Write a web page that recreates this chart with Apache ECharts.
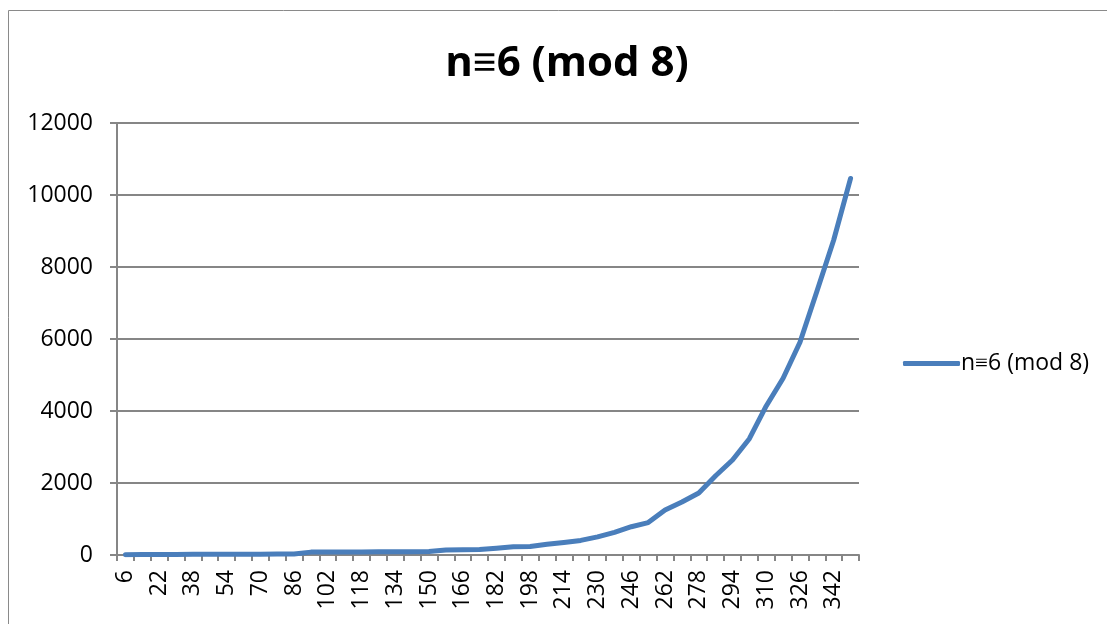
<!DOCTYPE html>
<html>
<head>
<meta charset="utf-8">
<script src="https://cdn.jsdelivr.net/npm/echarts@6/dist/echarts.min.js"></script>
<style>
  html, body { margin: 0; padding: 0; background: #fff; }
  #chart { width: 1107px; height: 624px; }
</style>
</head>
<body>
<div id="chart"></div>
<script>
// n values: 6, 14, 22, ..., 350 (step 8)
const categories = [
  '6', '14', '22', '30', '38', '46', '54', '62', '70', '78', '86',
  '94', '102', '110', '118', '126', '134', '142', '150', '158', '166',
  '174', '182', '190', '198', '206', '214', '222', '230', '238', '246',
  '254', '262', '270', '278', '286', '294', '302', '310', '318', '326',
  '334', '342', '350'
];

const seriesName = 'n≡6 (mod 8)';

const counts = [
  10, 12, 14, 16, 18, 20, 20, 22, 24, 26, 28,
  80, 82, 84, 86, 88, 90, 92, 95, 140, 145,
  150, 190, 230, 235, 296, 350, 405, 505, 630, 785,
  900, 1250, 1470, 1720, 2200, 2640, 3230, 4140, 4910, 5910,
  7320, 8750, 10460
];

const yTicks = { min: 0, max: 12000, interval: 2000 };

const axisGray = '#868686';
const lineBlue = '#4a7ebb';
const font = 'Open Sans';

const chart = echarts.init(document.getElementById('chart'));
chart.setOption({
  animation: false,
  backgroundColor: '#fff',
  title: {
    text: seriesName,
    left: 562,
    top: 38,
    textAlign: 'center',
    textStyle: { fontFamily: font, fontWeight: 'bold', fontSize: 42, color: '#000' }
  },
  graphic: [{
    type: 'rect',
    shape: { x: 8.5, y: 10.5, width: 1200, height: 700 },
    style: { fill: 'none', stroke: '#8a8a8a', lineWidth: 1 },
    silent: true
  }],
  legend: {
    data: [{ name: seriesName, icon: 'roundRect' }],
    orient: 'vertical',
    left: 898,
    top: 347,
    itemWidth: 57,
    itemHeight: 5,
    itemGap: 6,
    textStyle: { fontFamily: font, fontSize: 23, color: '#000', padding: [0, 0, 0, -4] }
  },
  grid: {
    left: 117,
    right: 248,
    top: 123,
    bottom: 69,
    containLabel: false
  },
  xAxis: {
    type: 'category',
    data: categories,
    boundaryGap: true,
    axisLine: { lineStyle: { color: axisGray, width: 2 } },
    axisTick: { show: true, interval: 0, length: 6, lineStyle: { color: axisGray, width: 2 } },
    axisLabel: {
      interval: 1,
      rotate: 90,
      margin: 15,
      fontFamily: font,
      fontSize: 23,
      color: '#000'
    },
    splitLine: { show: false }
  },
  yAxis: {
    type: 'value',
    min: yTicks.min,
    max: yTicks.max,
    interval: yTicks.interval,
    axisLine: { show: true, lineStyle: { color: axisGray, width: 2 } },
    axisTick: { show: true, length: 7, lineStyle: { color: axisGray, width: 2 } },
    axisLabel: {
      margin: 24,
      fontFamily: font,
      fontSize: 23,
      color: '#000',
      formatter: (v) => String(v)
    },
    splitLine: { show: true, lineStyle: { color: axisGray, width: 2 } }
  },
  series: [{
    name: seriesName,
    type: 'line',
    data: counts,
    showSymbol: false,
    symbol: 'none',
    lineStyle: { color: lineBlue, width: 5, cap: 'round', join: 'round' },
    itemStyle: { color: lineBlue }
  }]
});
</script>
</body>
</html>
